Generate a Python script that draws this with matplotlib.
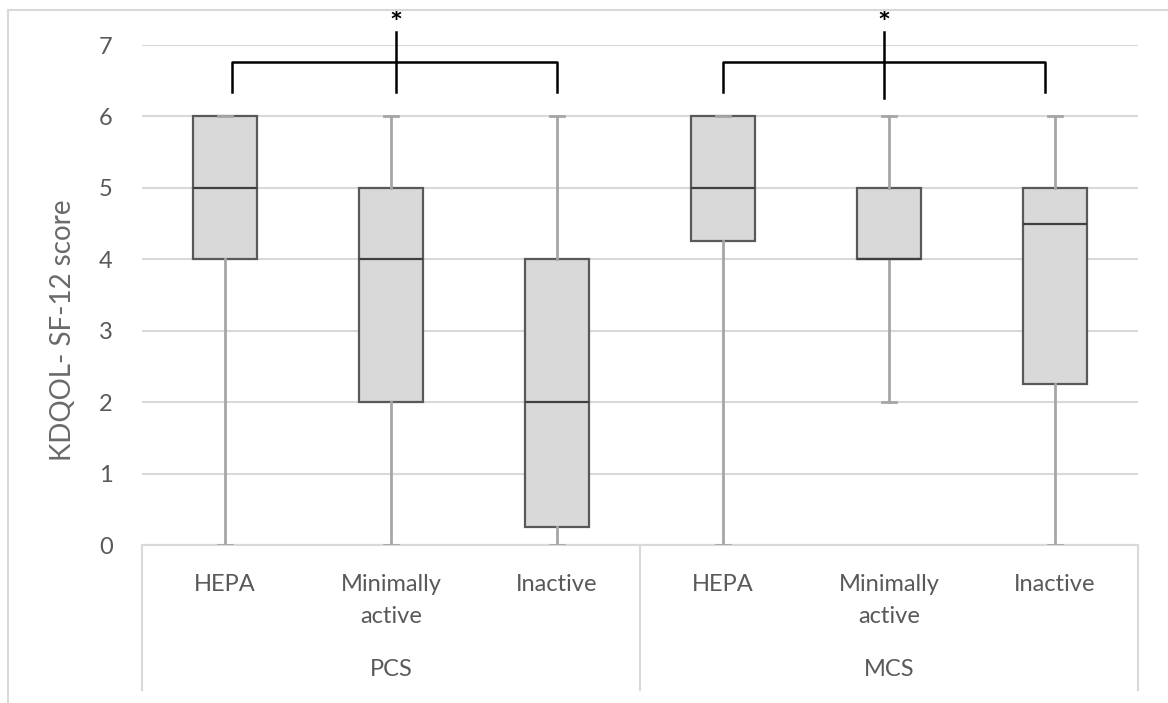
import matplotlib
matplotlib.use("Agg")
import matplotlib.pyplot as plt
from matplotlib.lines import Line2D
from matplotlib.transforms import blended_transform_factory

plt.rcParams['font.family'] = ['Lato', 'DejaVu Sans']

groups = ["PCS", "MCS"]
categories = ["HEPA", "Minimally\nactive", "Inactive"]

# five-number summaries, PCS then MCS
whislo = [0, 0, 0, 0, 2, 0]
q1 = [4, 2, 0.25, 4.25, 4, 2.25]
med = [5, 4, 2, 5, 4, 4.5]
q3 = [6, 5, 4, 6, 5, 5]
whishi = [6, 6, 6, 6, 6, 6]

yticks = [0, 1, 2, 3, 4, 5, 6, 7]

TXT = "#595959"
GRID = "#d9d9d9"

W, H = 1168, 703
fig = plt.figure(figsize=(W / 100, H / 100), dpi=100)
ax = fig.add_axes([142 / W, (H - 545) / H, (1138 - 142) / W, (545 - 45) / H])

n = len(med)
pos = [i + 0.5 for i in range(n)]
stats = []
for i in range(n):
    stats.append(dict(whislo=whislo[i], q1=q1[i], med=med[i], q3=q3[i],
                      whishi=whishi[i], fliers=[]))

ax.bxp(stats, positions=pos, widths=0.39, patch_artist=True,
       capwidths=0.09, showfliers=False,
       boxprops=dict(facecolor="#d9d9d9", edgecolor="#595959", linewidth=1.6),
       medianprops=dict(color="#404040", linewidth=1.6),
       whiskerprops=dict(color="#a6a6a6", linewidth=2),
       capprops=dict(color="#a6a6a6", linewidth=2), zorder=3)

ax.set_xlim(0, n)
ax.set_ylim(0, 7)
ax.set_yticks(yticks)
ax.yaxis.grid(True, color=GRID, linewidth=1.5)
ax.set_axisbelow(True)
for s in ["top", "left", "right"]:
    ax.spines[s].set_visible(False)
ax.spines["bottom"].set_color(GRID)
ax.spines["bottom"].set_linewidth(1.5)
ax.tick_params(axis="y", length=0, pad=21, labelsize=17, labelcolor=TXT)
ax.set_xticks(pos)
ax.set_xticklabels(categories * len(groups), fontsize=17, color=TXT,
                   linespacing=1.65, va="top")
ax.tick_params(axis="x", length=0, pad=21)
ax.set_ylabel("KDQOL- SF-12 score", fontsize=20, color="#6a6a6a")
ax.yaxis.set_label_coords(-66 / 996, (545 - 330) / 500)

# group labels and separators below the category axis
tr = blended_transform_factory(ax.transData, fig.transFigure)
for g, name in enumerate(groups):
    ax.text(g * 3 + 1.5, (H - 669) / H, name, transform=tr, ha="center",
            va="center", fontsize=17, color=TXT)
for xs in [0, 3, 6]:
    fig.add_artist(Line2D([xs, xs], [(H - 545) / H, (H - 690) / H], transform=tr,
                          color=GRID, linewidth=1.5))

# significance brackets
for g in range(len(groups)):
    x0 = g * 3 + 0.54 if g == 0 else g * 3 + 0.5
    x2 = g * 3 + 2.5 if g == 0 else g * 3 + 2.44
    xc = g * 3 + 1.53 if g == 0 else g * 3 + 1.47
    kw = dict(color="black", linewidth=1.8, clip_on=False, zorder=5)
    ax.plot([x0, x0, x2, x2], [6.34, 6.76, 6.76, 6.34], **kw)
    ax.plot([xc, xc], [6.34 if g == 0 else 6.26, 7.18], **kw)
    ax.text(xc, 7.3, "*", ha="center", va="center", fontsize=22,
            fontweight="bold", color="black", clip_on=False)

# outer chart border
fig.add_artist(Line2D([8 / W, 8 / W], [0, (H - 10) / H], transform=fig.transFigure,
                      color=GRID, linewidth=1.5))
fig.add_artist(Line2D([8 / W, 1], [(H - 10) / H, (H - 10) / H],
                      transform=fig.transFigure, color=GRID, linewidth=1.5))

fig.savefig("out.png", dpi=100)
